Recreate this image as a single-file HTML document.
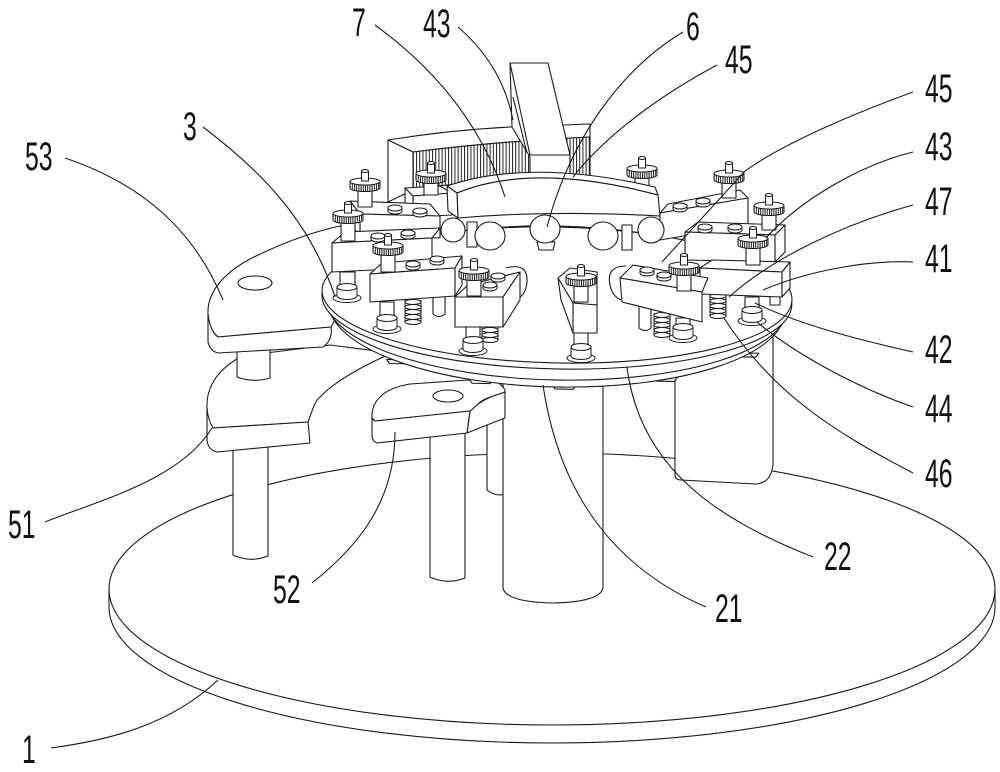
<!DOCTYPE html>
<html><head><meta charset="utf-8"><style>
html,body{margin:0;padding:0;background:#fff;}
svg{display:block;}
text{font-family:"Liberation Sans",sans-serif;font-size:40px;fill:#111;}
</style></head><body>
<svg width="1000" height="772" viewBox="0 0 1000 772" xmlns="http://www.w3.org/2000/svg">
<defs>
 <pattern id="tt" patternUnits="userSpaceOnUse" width="3.2" height="4"><rect width="3.2" height="4" fill="#fff"/><rect width="1" height="4" fill="#222"/></pattern>
 <pattern id="gt" patternUnits="userSpaceOnUse" width="2.2" height="4"><rect width="2.2" height="4" fill="#fff"/><rect width="1" height="4" fill="#1a1a1a"/></pattern>
 <g id="gear" stroke="#1a1a1a" stroke-width="1">
  <path d="M-15,3.5 L-15,10 A15,3.5 0 0 0 15,10 L15,3.5 Z" fill="url(#gt)"/>
  <ellipse cx="0" cy="3.5" rx="15" ry="3.5" fill="#fff"/>
  <rect x="-3.5" y="-7" width="7" height="10" fill="#fff"/>
  <ellipse cx="0" cy="-7" rx="3.5" ry="1.5" fill="#fff"/>
 </g>
 <g id="bolt" stroke="#1a1a1a" stroke-width="1" fill="#fff">
  <path d="M-7,0 L-7,3 A7,3 0 0 0 7,3 L7,0 Z"/>
  <ellipse cx="0" cy="0" rx="7" ry="3"/>
 </g>
 <g id="collar" stroke="#1a1a1a" stroke-width="1" fill="#fff">
  <ellipse cx="0" cy="11" rx="14" ry="4.5"/>
  <path d="M-10,0 L-10,9 A10,3.5 0 0 0 10,9 L10,0 Z"/>
  <ellipse cx="0" cy="0" rx="10" ry="3.5"/>
 </g>
 <g id="spring" stroke="#1a1a1a" stroke-width="1">
  <rect x="-8" y="0" width="16" height="22" fill="#fff" stroke="none"/>
  <path d="M-8,0V22M8,0V22" fill="none"/>
  <ellipse cx="0" cy="2" rx="8" ry="2.5" fill="none"/>
  <ellipse cx="0" cy="7" rx="8" ry="2.5" fill="none"/>
  <ellipse cx="0" cy="12" rx="8" ry="2.5" fill="none"/>
  <ellipse cx="0" cy="17" rx="8" ry="2.5" fill="none"/>
  <ellipse cx="0" cy="22" rx="8" ry="2.5" fill="none"/>
 </g>
</defs>

<g stroke="#1a1a1a" stroke-width="1.1" fill="#fff" stroke-linejoin="round">
<!-- base plate 1 -->
<path d="M109,589 L109,607 A443,136 0 0 0 995,607 L995,589 Z"/>
<ellipse cx="552" cy="589" rx="443" ry="136"/>

<!-- under-disc parts -->
<path d="M675,330 L675,476 Q676,480 681,480 L756,484 Q771,483 773,465 L773,330 Z"/>
<path d="M487,415 L487,490 Q496,497 505,494 L505,415 Z"/>
<path d="M503,360 L503,588 Q506,602 553,603 Q600,602 603,588 L603,360 Z"/>
<path d="M233,440 L233,555 Q250,563 268,556 L268,440 Z"/>
<path d="M430,425 L430,577 Q447,585 465,578 L465,425 Z"/>

<!-- plate 52 -->
<path d="M470,411 L478,404 Q490,396 505,392 L505,418 L487,425 L467,433 Z"/>
<path d="M372,418 C371,400 385,388 410,384 L483,379 C496,379 505,386 505,392 C494,396 484,398 478,404 C474,408 472,410 470,411 L375,421 Z"/>
<path d="M372,418 L372,436 Q373,442 377,443 L467,433 L470,411 L375,421 Q373,420 372,418 Z"/>
<ellipse cx="448" cy="396" rx="15" ry="6"/>

<!-- plate 51 -->
<path d="M207,408 C206,385 220,368 242,356 L330,345 L392,353 C360,367 333,383 320,397 C314,402 312,412 308,422 L213,428 C209,424 207,416 207,408 Z"/>
<path d="M207,408 L207,440 Q208,450 217,452 L310,443 L308,422 L213,428 Q208,420 207,408 Z"/>

<!-- plate 53 -->
<path d="M237,345 L237,377 Q253,383 270,378 L270,345 Z"/>
<path d="M208,314 C207,292 224,273 250,259 C280,244 312,232 340,226 L346,232 L346,300 L331,327 L218,337 C212,332 208,324 208,314 Z"/>
<path d="M208,314 L208,342 Q210,351 218,353 L323,347 Q333,340 331,327 L218,337 Q210,331 208,314 Z"/>
<ellipse cx="255" cy="283" rx="17" ry="7"/>

<!-- disc 3 and flange 22 -->
<g transform="rotate(1.2 557 295)">
 <path d="M388,363 l3,4 h18 l3,-4 Z"/>
 <path d="M471,381 l3,4 h18 l3,-4 Z"/>
 <path d="M554,385 l3,4 h18 l3,-4 Z"/>
 <path d="M655,375 l3,4 h18 l3,-4 Z"/>
 <path d="M736,349 l3,4 h18 l3,-4 Z"/>
 <ellipse cx="557" cy="307" rx="228" ry="80"/>
 <ellipse cx="557" cy="303" rx="231" ry="77"/>
 <ellipse cx="557" cy="300" rx="235" ry="69"/>
 <ellipse cx="557" cy="295" rx="235" ry="68"/>
</g>

<!-- toothed arc -->
<path d="M388,140 Q450,130 510,127 L590,124 L590,137 Q500,141 413,152 Z"/>
<path d="M413,152 Q500,141 590,137 L590,175 Q500,180 413,188 Z" fill="url(#tt)"/>
<path d="M388,140 L413,152 L413,190 L388,202 Z"/>

<!-- tall bar -->
<path d="M510,63 L548,63 L570,155 L570,175 L530,175 L530,157 L512,127 Z"/>
<path d="M510,63 L530,155 L570,155 M513,97 L527,153" fill="none"/>

<!-- block B + g2 -->
<path d="M405,188 L440,186 L452,193 L413,196 Z"/>
<path d="M413,196 L452,193 L452,215 L413,217 Z"/>
<path d="M405,188 L413,196 L413,217 L405,210 Z"/>
<rect x="424" y="183" width="14" height="12"/>
<use href="#gear" x="431" y="170"/>

<!-- block A + g1 -->
<path d="M350,201 L430,204 L440,216 L360,214 Z"/>
<path d="M360,214 L440,216 L440,238 L360,236 Z"/>
<path d="M350,201 L360,214 L360,236 L350,223 Z"/>
<use href="#bolt" x="395" y="208"/>
<use href="#bolt" x="420" y="211"/>
<rect x="358" y="191" width="14" height="16"/>
<use href="#gear" x="365" y="178"/>

<!-- g7 -->
<rect x="635" y="178" width="14" height="15"/>
<use href="#gear" x="642" y="165"/>

<!-- block W + g8 -->
<path d="M668,204 L740,190 L748,198 L660,213 Z"/>
<path d="M660,213 L748,198 L748,225 L660,240 Z"/>
<use href="#bolt" x="680" y="206"/>
<use href="#bolt" x="703" y="201"/>
<rect x="722" y="183" width="14" height="15"/>
<use href="#gear" x="729" y="170"/>

<!-- supports and balls -->
<rect x="467" y="222" width="10" height="25"/>
<rect x="622" y="225" width="10" height="25"/>
<path d="M537,242 L539,250 L553,250 L555,242 Z"/>
<ellipse cx="453" cy="230" rx="12" ry="12"/>
<ellipse cx="490" cy="236" rx="15" ry="14"/>
<ellipse cx="545" cy="229" rx="15" ry="14"/>
<ellipse cx="603" cy="236" rx="15" ry="14"/>
<ellipse cx="651" cy="230" rx="13" ry="13"/>

<!-- block 7 -->
<path d="M447,186 Q530,158 655,187 L658,195 Q533,162 457,193 Z"/>
<path d="M457,193 Q533,162 658,195 L660,216 Q550,210 458,218 Z"/>
<path d="M447,186 L457,193 L458,218 L448,211 Z"/>

<!-- block U + g9 -->
<path d="M685,232 L698,222 L785,225 L775,235 Z"/>
<path d="M685,232 L775,235 L775,262 L685,260 Z"/>
<path d="M775,235 L785,225 L785,252 L775,262 Z"/>
<use href="#bolt" x="705" y="227"/>
<use href="#bolt" x="735" y="227"/>
<rect x="762" y="215" width="14" height="15"/>
<use href="#gear" x="769" y="202"/>

<!-- block P + g3 -->
<rect x="340" y="272" width="15" height="16"/>
<use href="#collar" x="347" y="287"/>
<path d="M332,243 L345,232 L440,228 L432,238 Z"/>
<path d="M332,243 L432,238 L432,267 L332,272 Z"/>
<use href="#bolt" x="378" y="236"/>
<use href="#bolt" x="408" y="233"/>
<rect x="341" y="223" width="14" height="18"/>
<use href="#gear" x="348" y="210"/>

<!-- block V + g10 -->
<rect x="770" y="285" width="10" height="20"/>
<use href="#spring" x="718" y="294"/>
<rect x="745" y="297" width="14" height="13"/>
<use href="#collar" x="752" y="310"/>
<path d="M700,268 L712,260 L790,262 L782,272 Z"/>
<path d="M700,268 L782,272 L782,297 L700,294 Z"/>
<path d="M782,272 L790,262 L790,288 L782,297 Z"/>
<rect x="746" y="248" width="14" height="17"/>
<use href="#gear" x="753" y="235"/>

<!-- block Q + g4 -->
<path d="M433,290 L433,314 Q439,319 445,314 L445,290 Z"/>
<use href="#spring" x="413" y="300"/>
<rect x="380" y="302" width="14" height="16"/>
<use href="#collar" x="387" y="318"/>
<path d="M370,274 L382,263 L462,256 L455,268 Z"/>
<path d="M370,274 L455,268 L455,296 L370,302 Z"/>
<path d="M455,268 L462,256 L462,285 L455,296 Z"/>
<use href="#bolt" x="413" y="264"/>
<use href="#bolt" x="437" y="259"/>
<rect x="381" y="255" width="14" height="17"/>
<use href="#gear" x="388" y="242"/>

<!-- block T + g11 -->
<path d="M639,300 L639,328 Q645,333 651,328 L651,300 Z"/>
<use href="#spring" x="662" y="313"/>
<rect x="676" y="318" width="14" height="9"/>
<use href="#collar" x="683" y="327"/>
<path d="M626,266 Q606,266 610,285 Q612,296 621,300" fill="none"/>
<path d="M620,278 L633,265 L708,278 L702,292 Z"/>
<path d="M620,278 L702,292 L702,322 L622,302 Z"/>
<use href="#bolt" x="647" y="270"/>
<use href="#bolt" x="664" y="275"/>
<rect x="677" y="275" width="14" height="16"/>
<use href="#gear" x="684" y="262"/>

<!-- block R + g5 -->
<use href="#spring" x="490" y="318"/>
<rect x="466" y="327" width="14" height="13"/>
<use href="#collar" x="473" y="340"/>
<path d="M506,268 Q528,262 527,282 Q526,293 520,297" fill="none"/>
<path d="M455,297 L468,285 L520,272 L503,297 Z"/>
<path d="M455,297 L503,297 L503,327 L455,327 Z"/>
<path d="M503,297 L520,272 L520,300 L503,327 Z"/>
<use href="#bolt" x="498" y="276"/>
<use href="#bolt" x="490" y="285"/>
<rect x="467" y="280" width="14" height="16"/>
<use href="#gear" x="474" y="267"/>

<!-- block S + g6 -->
<rect x="574" y="333" width="14" height="14"/>
<use href="#collar" x="581" y="347"/>
<path d="M558,278 L570,268 L597,272 L597,305 L573,303 Z"/>
<path d="M573,303 L597,305 L597,333 L573,333 Z"/>
<path d="M558,278 L573,303 L573,333 L561,300 Z"/>
<rect x="574" y="286" width="14" height="16"/>
<use href="#gear" x="581" y="273"/>
</g>

<!-- leader lines -->
<g stroke="#1a1a1a" stroke-width="1.1" fill="none">
<path d="M375,25 C430,65 480,120 505,197"/>
<path d="M458,27 C485,50 505,80 513,120"/>
<path d="M683,32 C620,70 570,140 547,227"/>
<path d="M717,65 C670,90 610,130 573,177"/>
<path d="M203,127 C260,170 310,220 335,297"/>
<path d="M65,158 C130,180 190,220 223,300"/>
<path d="M913,92 C850,115 780,145 744,172 L662,262"/>
<path d="M913,152 C860,165 800,200 766,238"/>
<path d="M913,205 C840,225 770,260 729,297"/>
<path d="M913,262 C870,260 810,270 763,290"/>
<path d="M913,352 C860,340 800,325 755,303"/>
<path d="M913,407 C850,385 790,350 757,322"/>
<path d="M913,473 C830,430 770,390 724,318"/>
<path d="M813,557 C720,520 640,470 627,367"/>
<path d="M706,607 C620,570 560,500 543,385"/>
<path d="M312,583 C360,545 395,500 395,432"/>
<path d="M45,522 C100,500 180,480 212,428"/>
<path d="M51,748 C110,740 170,725 218,680"/>
</g>

<!-- labels -->
<text transform="translate(352,36) scale(0.62,1)">7</text>
<text transform="translate(423,37) scale(0.62,1)">43</text>
<text transform="translate(686,40) scale(0.62,1)">6</text>
<text transform="translate(725,73) scale(0.62,1)">45</text>
<text transform="translate(183,140) scale(0.62,1)">3</text>
<text transform="translate(25,170) scale(0.62,1)">53</text>
<text transform="translate(925,102) scale(0.62,1)">45</text>
<text transform="translate(925,160) scale(0.62,1)">43</text>
<text transform="translate(925,215) scale(0.62,1)">47</text>
<text transform="translate(925,272) scale(0.62,1)">41</text>
<text transform="translate(925,363) scale(0.62,1)">42</text>
<text transform="translate(925,422) scale(0.62,1)">44</text>
<text transform="translate(925,487) scale(0.62,1)">46</text>
<text transform="translate(824,570) scale(0.62,1)">22</text>
<text transform="translate(715,622) scale(0.62,1)">21</text>
<text transform="translate(273,603) scale(0.62,1)">52</text>
<text transform="translate(8,538) scale(0.62,1)">51</text>
<text transform="translate(22,763) scale(0.62,1)">1</text>
</svg>
</body></html>
